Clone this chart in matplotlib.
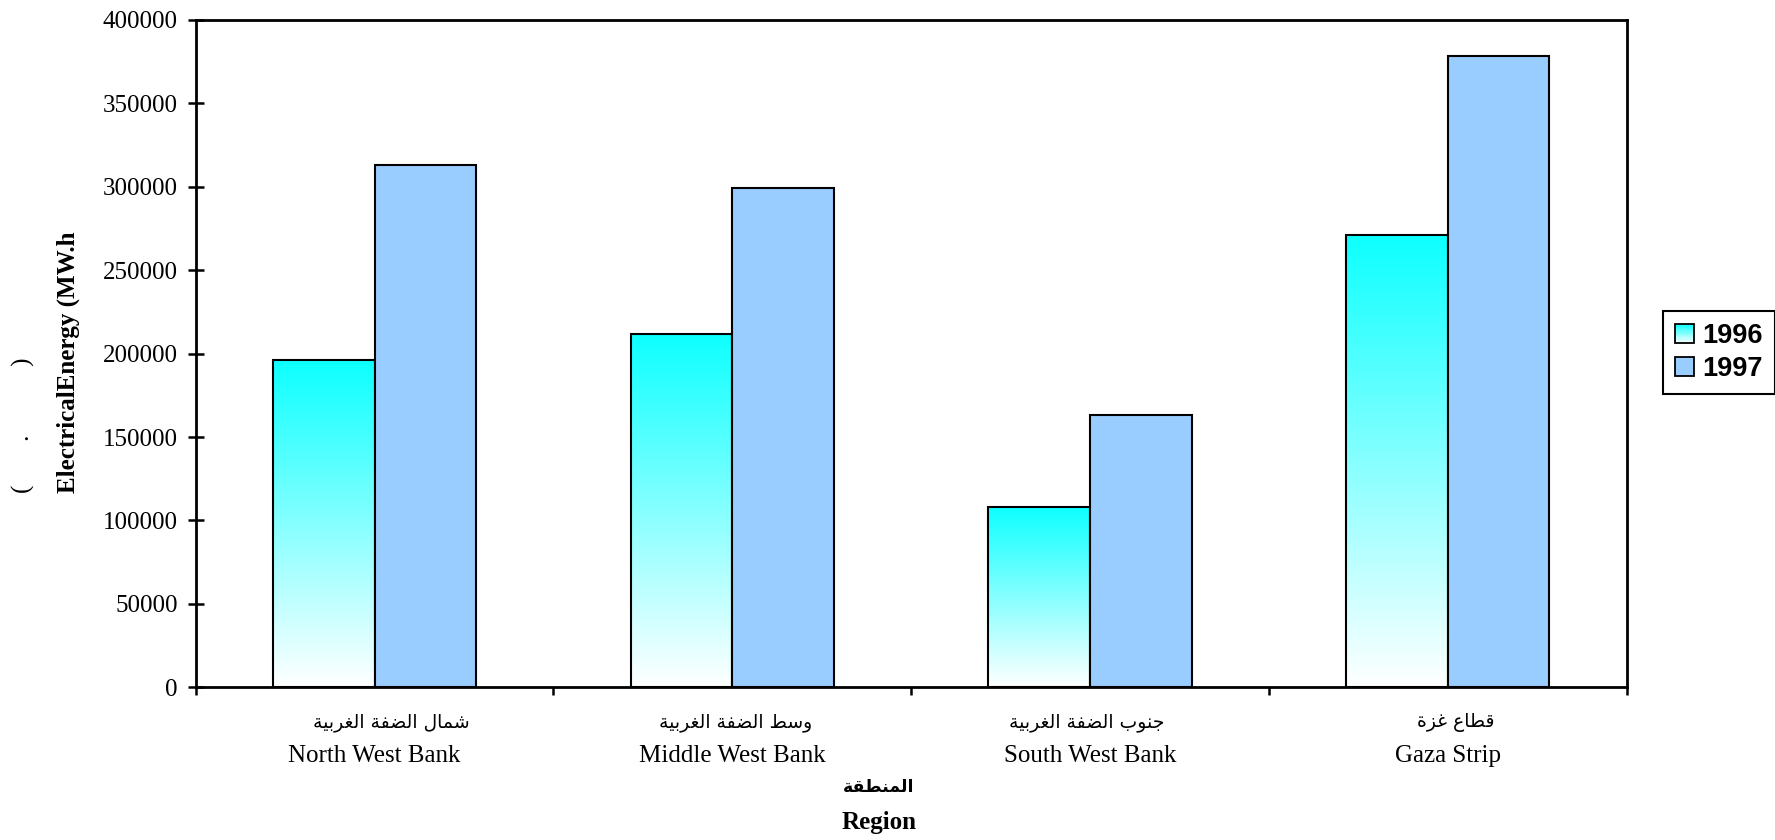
import numpy as np
import matplotlib
matplotlib.use('Agg')
import matplotlib.pyplot as plt
from matplotlib.patches import Rectangle, Patch
from matplotlib.legend_handler import HandlerBase
from matplotlib.font_manager import FontProperties

# Chart data
regions_ar = ['شمال الضفة الغربية', 'وسط الضفة الغربية', 'جنوب الضفة الغربية', 'قطاع غزة']
regions_en = ['North West Bank', 'Middle West Bank', 'South West Bank', 'Gaza Strip']
years = ['1996', '1997']
energy_1996 = [196000, 211800, 107900, 271400]
energy_1997 = [313300, 299000, 163400, 378400]
y_ticks = [0, 50000, 100000, 150000, 200000, 250000, 300000, 350000, 400000]
x_title_ar = 'المنطقة'
x_title_en = 'Region'
y_title_en = 'ElectricalEnergy (MW.h'
y_title_rest = '(       .           )'

# Layout helpers
arabic_dx = [17, 3, -3, 8]  # small pixel shifts of the Arabic labels
color_1997 = '#99CCFF'
serif = ['Liberation Serif', 'DejaVu Serif']
arabic_font = ['DejaVu Sans']

# Arabic presentation forms: isolated, final, initial, medial
ARABIC_FORMS = {
    'ا': ('\uFE8D', '\uFE8E', None, None),
    'ب': ('\uFE8F', '\uFE90', '\uFE91', '\uFE92'),
    'ة': ('\uFE93', '\uFE94', None, None),
    'ج': ('\uFE9D', '\uFE9E', '\uFE9F', '\uFEA0'),
    'ر': ('\uFEAD', '\uFEAE', None, None),
    'ز': ('\uFEAF', '\uFEB0', None, None),
    'س': ('\uFEB1', '\uFEB2', '\uFEB3', '\uFEB4'),
    'ش': ('\uFEB5', '\uFEB6', '\uFEB7', '\uFEB8'),
    'ض': ('\uFEBD', '\uFEBE', '\uFEBF', '\uFEC0'),
    'ط': ('\uFEC1', '\uFEC2', '\uFEC3', '\uFEC4'),
    'ع': ('\uFEC9', '\uFECA', '\uFECB', '\uFECC'),
    'غ': ('\uFECD', '\uFECE', '\uFECF', '\uFED0'),
    'ف': ('\uFED1', '\uFED2', '\uFED3', '\uFED4'),
    'ق': ('\uFED5', '\uFED6', '\uFED7', '\uFED8'),
    'ل': ('\uFEDD', '\uFEDE', '\uFEDF', '\uFEE0'),
    'م': ('\uFEE1', '\uFEE2', '\uFEE3', '\uFEE4'),
    'ن': ('\uFEE5', '\uFEE6', '\uFEE7', '\uFEE8'),
    'و': ('\uFEED', '\uFEEE', None, None),
    'ي': ('\uFEF1', '\uFEF2', '\uFEF3', '\uFEF4'),
}


# matplotlib has no Arabic shaping, so pick the joined forms and reverse
def shape_arabic(text):
    out = []
    for i, ch in enumerate(text):
        forms = ARABIC_FORMS.get(ch)
        if forms is None:
            out.append(ch)
            continue
        prev = ARABIC_FORMS.get(text[i - 1]) if i > 0 else None
        nxt = ARABIC_FORMS.get(text[i + 1]) if i + 1 < len(text) else None
        join_prev = prev is not None and prev[2] is not None
        join_next = nxt is not None and forms[2] is not None
        if join_prev and join_next:
            out.append(forms[3])
        elif join_prev:
            out.append(forms[1])
        elif join_next:
            out.append(forms[2])
        else:
            out.append(forms[0])
    return ''.join(reversed(out))


def cyan_fade(t):
    # t = 0 at the bottom (white), t = 1 at the top (cyan)
    return (1 - 0.95 * t, 1.0, 1.0)


class GradientHandler(HandlerBase):
    def create_artists(self, legend, orig_handle, xdescent, ydescent,
                       width, height, fontsize, trans):
        x0, y0 = -xdescent, -ydescent
        n = 16
        artists = []
        for k in range(n):
            artists.append(Rectangle((x0, y0 + k * height / n), width, height / n,
                                     facecolor=cyan_fade((k + 0.5) / n),
                                     edgecolor='none', transform=trans))
        artists.append(Rectangle((x0, y0), width, height, facecolor='none',
                                 edgecolor='black', lw=1.3, transform=trans))
        return artists


W, H = 1775, 840
fig = plt.figure(figsize=(W / 100, H / 100), dpi=100)
ax = fig.add_axes([195.7 / W, 1 - 687.3 / H, 1431 / W, 667.3 / H])

centers = np.arange(len(regions_en)) + 0.5
bar_w = 0.284

# 1996 bars with a vertical cyan-to-white fade
grad = np.linspace(0, 1, 256)[:, None]
img = np.dstack([1 - 0.95 * (1 - grad), np.ones_like(grad), np.ones_like(grad)])
bars96 = ax.bar(centers - bar_w / 2, energy_1996, bar_w, facecolor='none',
                edgecolor='black', linewidth=1.5, zorder=3)
for b in bars96:
    x0, h = b.get_x(), b.get_height()
    im = ax.imshow(img, extent=[x0, x0 + bar_w, 0, h], origin='upper',
                   aspect='auto', zorder=2)
    im.set_clip_path(b)

ax.bar(centers + bar_w / 2, energy_1997, bar_w, color=color_1997,
       edgecolor='black', linewidth=1.5, zorder=3)

ax.set_xlim(0, len(regions_en))
ax.set_ylim(0, 400000)
ax.set_yticks(y_ticks)
ax.set_yticklabels([str(v) for v in y_ticks], family=serif, fontsize=18)
ax.set_xticks(np.arange(len(regions_en) + 1))
ax.set_xticklabels([])
ax.tick_params(axis='y', direction='inout', length=12, width=1.8, pad=7)
ax.tick_params(axis='x', direction='out', length=6, width=1.8)
for s in ax.spines.values():
    s.set_linewidth(2)

# category labels: Arabic line then English line
for i in range(len(regions_en)):
    xpix = 195.7 + centers[i] * 1431 / len(regions_en)
    fig.text((xpix + arabic_dx[i]) / W, 1 - 722 / H, shape_arabic(regions_ar[i]),
             family=arabic_font, fontsize=13.5, ha='center', va='center')
    fig.text(xpix / W, 1 - 756 / H, regions_en[i], family=serif, fontsize=18,
             ha='center', va='center')

fig.text(879 / W, 1 - 787 / H, shape_arabic(x_title_ar), family=arabic_font,
         fontsize=12.5, fontweight='bold', ha='center', va='center')
fig.text(879 / W, 1 - 823 / H, x_title_en, family=serif, fontsize=18,
         fontweight='bold', ha='center', va='center')

fig.text(68 / W, 1 - 362 / H, y_title_en, family=serif, fontsize=18,
         fontweight='bold', rotation=90, ha='center', va='center')
fig.text(23 / W, 1 - 425 / H, y_title_rest, family=serif, fontsize=18,
         rotation=90, ha='center', va='center')

h96 = Patch(facecolor='cyan', edgecolor='black')
h97 = Patch(facecolor=color_1997, edgecolor='black', linewidth=1.3)
leg = fig.legend([h96, h97], years, handler_map={h96: GradientHandler()},
                 loc='upper left', bbox_to_anchor=(1663 / W, 1 - 311 / H),
                 prop=FontProperties(family='Liberation Sans', weight='bold', size=19.5),
                 frameon=True, fancybox=False, framealpha=1, edgecolor='black',
                 handlelength=0.71, handleheight=0.71, handletextpad=0.29,
                 borderpad=0.45, labelspacing=0.25, borderaxespad=0)
leg.get_frame().set_linewidth(1.5)

fig.savefig('out.png', dpi=100)
